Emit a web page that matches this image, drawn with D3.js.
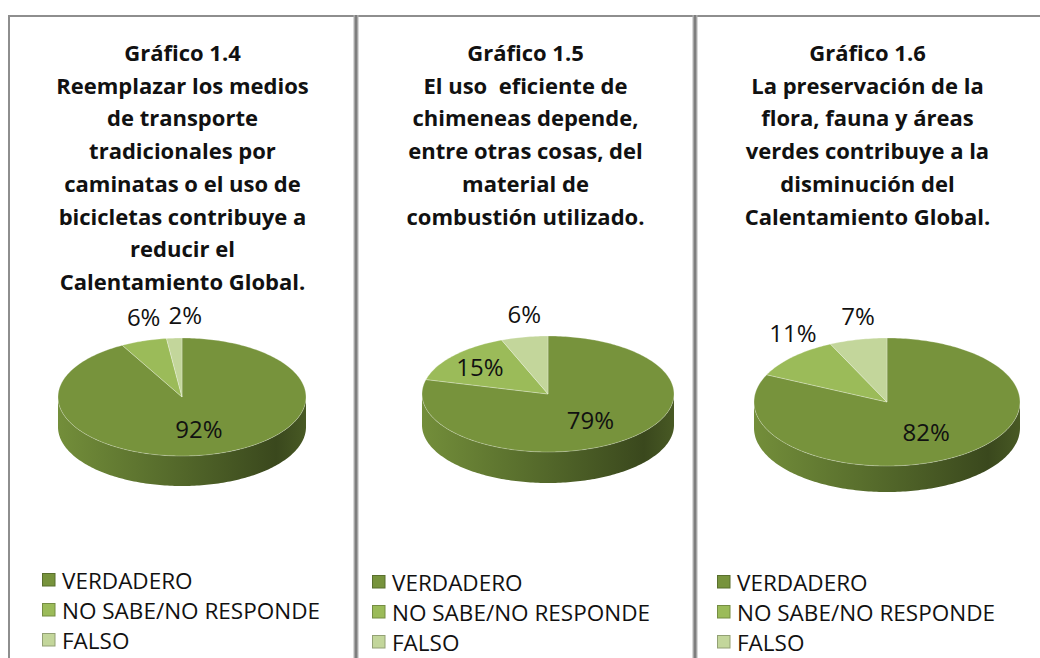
<!DOCTYPE html>
<html>
<head>
<meta charset="utf-8">
<script src="https://cdn.jsdelivr.net/npm/d3@7"></script>
<style>
  body { margin: 0; background: #fff; }
  text { font-family: "Open Sans", "Liberation Sans", sans-serif; fill: #111; white-space: pre; }
</style>
</head>
<body>
<svg width="1040" height="658"></svg>
<script>
// data
const categories = ['VERDADERO', 'NO SABE/NO RESPONDE', 'FALSO'];
const colors = ['#77933C', '#9BBB59', '#C3D69B'];

const title14 = ['Gráfico 1.4', 'Reemplazar los medios', 'de transporte', 'tradicionales por', 'caminatas o el uso de', 'bicicletas contribuye a', 'reducir el', 'Calentamiento Global.'];
const title15 = ['Gráfico 1.5', 'El uso  eficiente de', 'chimeneas depende,', 'entre otras cosas, del', 'material de', 'combustión utilizado.'];
const title16 = ['Gráfico 1.6', 'La preservación de la', 'flora, fauna y áreas', 'verdes contribuye a la', 'disminución del', 'Calentamiento Global.'];

const values14 = [92, 6, 2];
const values15 = [79, 15, 6];
const values16 = [82, 11, 7];

// which labels sit inside the slice
const inside14 = [true, false, false];
const inside15 = [true, true, false];
const inside16 = [true, false, false];

const panels = [
	{ title: title14, values: values14, inside: inside14, x0: 9, x1: 356, cx: 182, cy: 397, rx: 124, ry: 59, depth: 30, legendY: 580, legendX: 42 },
	{ title: title15, values: values15, inside: inside15, x0: 356, x1: 695, cx: 548, cy: 394, rx: 126, ry: 58, depth: 31, legendY: 582, legendX: 372 },
	{ title: title16, values: values16, inside: inside16, x0: 695, x1: 1040, cx: 887, cy: 402, rx: 133, ry: 64, depth: 26, legendY: 582, legendX: 717 }
];

const svg = d3.select('svg');
const defs = svg.append('defs');

// side gradients, one per category colour
colors.forEach((c, i) => {
	const g = defs.append('linearGradient').attr('id', 'side' + i).attr('x1', 0).attr('x2', 1).attr('y1', 0).attr('y2', 0);
	const base = d3.color(c);
	g.append('stop').attr('offset', '0%').attr('stop-color', base.darker(0.1));
	g.append('stop').attr('offset', '40%').attr('stop-color', base.darker(0.8));
	g.append('stop').attr('offset', '88%').attr('stop-color', base.darker(2.0));
	g.append('stop').attr('offset', '100%').attr('stop-color', base.darker(1.4));
});

// frame lines
svg.append('line').attr('x1', 8).attr('x2', 1040).attr('y1', 16).attr('y2', 16).attr('stroke', '#8e8e8e').attr('stroke-width', 2);
svg.append('line').attr('x1', 9).attr('x2', 9).attr('y1', 15).attr('y2', 658).attr('stroke', '#8e8e8e').attr('stroke-width', 2);
[356, 695].forEach((x) => {
	svg.append('line').attr('x1', x).attr('x2', x).attr('y1', 15).attr('y2', 658).attr('stroke', '#b4b4b4').attr('stroke-width', 5);
	svg.append('line').attr('x1', x).attr('x2', x).attr('y1', 15).attr('y2', 658).attr('stroke', '#7e7e7e').attr('stroke-width', 2.5);
});

const pie = d3.pie().sort(null).value((d) => d);

panels.forEach((p) => {
	const g = svg.append('g');
	const mid = (p.x0 + p.x1) / 2;

	// title
	g.append('text')
		.attr('text-anchor', 'middle')
		.attr('font-weight', 'bold')
		.attr('font-size', 22)
		.selectAll('tspan')
		.data(p.title)
		.enter()
		.append('tspan')
		.attr('x', mid)
		.attr('y', (d, i) => 61 + i * 32.7)
		.text((d) => d);

	const pt = (a, f, dy) => [ p.cx + p.rx * f * Math.sin(a), p.cy - p.ry * f * Math.cos(a) + (dy || 0) ];
	const arcPoints = (a0, a1, dy) => {
		const n = Math.max(2, Math.ceil((a1 - a0) / 0.02));
		return d3.range(n + 1).map((k) => pt(a0 + (a1 - a0) * k / n, 1, dy));
	};
	const line = d3.line();

	const arcs = pie(p.values);

	// sides (front half only)
	arcs.forEach((a, i) => {
		const s0 = Math.max(a.startAngle, Math.PI / 2);
		const s1 = Math.min(a.endAngle, Math.PI * 3 / 2);
		if (s1 <= s0) return;
		const pts = arcPoints(s0, s1, 0).concat(arcPoints(s0, s1, p.depth).reverse());
		g.append('path')
			.attr('d', line(pts) + 'Z')
			.attr('fill', 'url(#side' + i + ')');
	});

	// tops
	arcs.forEach((a, i) => {
		const pts = [ [ p.cx, p.cy ] ].concat(arcPoints(a.startAngle, a.endAngle, 0));
		g.append('path')
			.attr('d', line(pts) + 'Z')
			.attr('fill', colors[i])
			.attr('stroke', 'rgba(255,255,255,0.35)')
			.attr('stroke-width', 0.8);
	});

	// labels
	const labels = [];
	arcs.forEach((a, i) => {
		const m = (a.startAngle + a.endAngle) / 2;
		const xy = p.inside[i] ? pt(m, i === 0 ? 0.55 : 0.72) : pt(m, 1, -24);
		const t = g.append('text')
			.attr('x', xy[0])
			.attr('y', xy[1])
			.attr('text-anchor', 'middle')
			.attr('dominant-baseline', 'central')
			.attr('font-size', 24)
			.attr('fill', '#000')
			.text(a.data + '%');
		labels.push(t);
	});
	// push overlapping labels apart to the right
	for (let i = 1; i < labels.length; i++) {
		const b = labels[i].node().getBBox();
		const prev = labels[i - 1].node().getBBox();
		const overlapY = b.y < prev.y + prev.height && prev.y < b.y + b.height;
		const overlapX = b.x < prev.x + prev.width && prev.x < b.x + b.width;
		if (overlapX && overlapY) {
			labels[i].attr('x', +labels[i].attr('x') + (prev.x + prev.width - b.x) + 8);
		}
	}

	// legend
	const leg = g.selectAll('.leg').data(categories).enter().append('g')
		.attr('transform', (d, i) => `translate(${p.legendX}, ${p.legendY + i * 30})`);
	leg.append('rect')
		.attr('x', 0.5).attr('y', -6.5).attr('width', 12.5).attr('height', 12.5)
		.attr('fill', (d, i) => colors[i])
		.attr('stroke', (d, i) => d3.color(colors[i]).darker(0.8))
		.attr('stroke-width', 1);
	leg.append('text')
		.attr('x', 20)
		.attr('y', 0)
		.attr('dominant-baseline', 'central')
		.attr('font-size', 22.5)
		.attr('fill', '#222')
		.text((d) => d);
});
</script>
</body>
</html>
